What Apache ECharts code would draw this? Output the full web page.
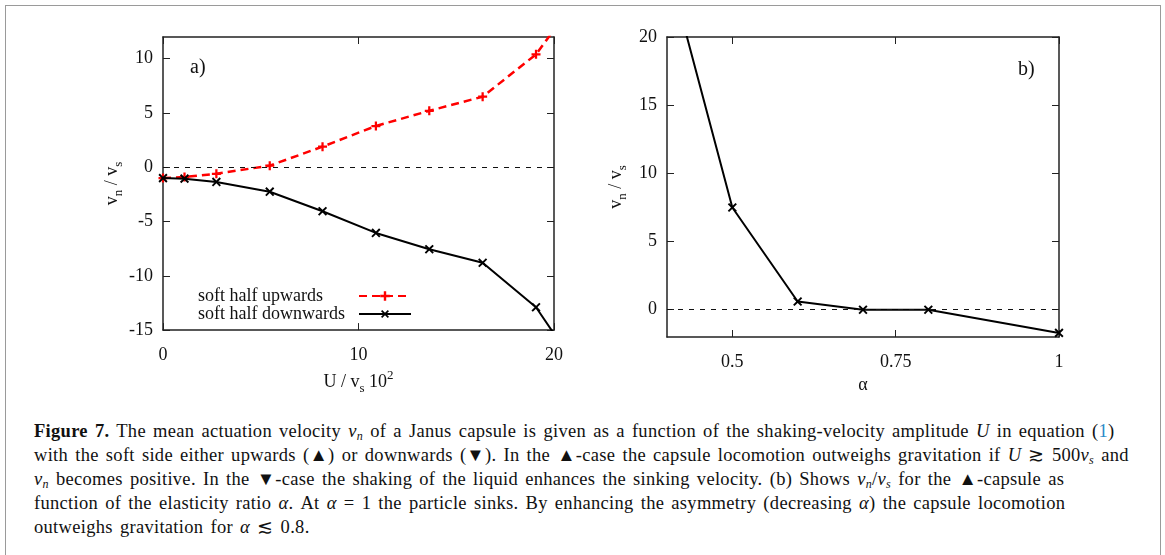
<!DOCTYPE html>
<html>
<head>
<meta charset="utf-8">
<script src="https://cdn.jsdelivr.net/npm/echarts@6/dist/echarts.min.js"></script>
<style>
  html, body { margin: 0; padding: 0; background: #fff; }
  #frame { position: absolute; left: 5px; top: 5px; width: 1156px; height: 600px; border: 1.5px solid #9a9a9a; border-bottom: none; box-sizing: border-box; }
  #chart { position: absolute; left: 0; top: 0; width: 1165px; height: 400px; }
  #caption { position: absolute; left: 34px; top: 419px; width: 1120px; font-family: "Liberation Serif", serif; font-size: 18.5px; letter-spacing: 0.3px; word-spacing: 2.2px; line-height: 24px; color: #111; white-space: nowrap; }
  #caption i { font-style: italic; }
  #caption sub { font-size: 12px; vertical-align: -3px; line-height: 0; }
  #caption .ref { color: #2a8ac7; }
</style>
</head>
<body>
<div id="frame"></div>
<div id="chart"></div>
<div id="caption">
  <div><b>Figure 7.</b> The mean actuation velocity <i>v<sub>n</sub></i> of a Janus capsule is given as a function of the shaking-velocity amplitude <i>U</i> in equation (<span class="ref">1</span>)</div>
  <div>with the soft side either upwards (▲) or downwards (▼). In the ▲-case the capsule locomotion outweighs gravitation if <i>U</i> ≳ 500<i>v<sub>s</sub></i> and</div>
  <div><i>v<sub>n</sub></i> becomes positive. In the ▼-case the shaking of the liquid enhances the sinking velocity. (b) Shows <i>v<sub>n</sub></i>/<i>v<sub>s</sub></i> for the ▲-capsule as</div>
  <div>function of the elasticity ratio <i>α</i>. At <i>α</i> = 1 the particle sinks. By enhancing the asymmetry (decreasing <i>α</i>) the capsule locomotion</div>
  <div>outweighs gravitation for <i>α</i> ≲ 0.8.</div>
</div>
<script>
// 左图：U / v_s 10^2
const uValues = [0, 1.1, 2.73, 5.46, 8.16, 10.89, 13.62, 16.35, 19.08, 21.8];
const upwardsValues = [-1.0, -0.9, -0.6, 0.15, 1.9, 3.8, 5.2, 6.5, 10.4, 17.1];
const downwardsValues = [-1.0, -1.05, -1.35, -2.25, -4.05, -6.05, -7.55, -8.8, -12.9, -20.1];
const leftXTicks = [0, 10, 20];
const leftYTicks = [-15, -10, -5, 0, 5, 10];

// 右图：alpha
const alphaValues = [0.4, 0.5, 0.6, 0.7, 0.8, 1.0];
const alphaVn = [25.5, 7.5, 0.6, 0, 0, -1.7];
const rightXTicks = [0.5, 0.75, 1];
const rightYTicks = [0, 5, 10, 15, 20];

const serif = 'Liberation Serif';
const plusPath = 'path://M3,0H5V3H8V5H5V8H3V5H0V3H3Z';
const crossPath = 'path://M3.3,0H4.7V3.3H8V4.7H4.7V8H3.3V4.7H0V3.3H3.3Z';

const nameRich = {
    n: { fontFamily: serif, fontSize: 18, color: '#111', lineHeight: 26, verticalAlign: 'middle' },
    sub: { fontFamily: serif, fontSize: 13, color: '#111', verticalAlign: 'bottom', lineHeight: 13 },
    sup: { fontFamily: serif, fontSize: 13, color: '#111', verticalAlign: 'top', lineHeight: 13 }
};

function makeAxis(gridIndex, position, min, max, ticks, opts) {
    return Object.assign({
        type: 'value',
        gridIndex: gridIndex,
        position: position,
        min: min,
        max: max,
        axisLine: { show: true, onZero: false, lineStyle: { color: '#222', width: 1.5 } },
        axisTick: { show: true, inside: true, length: 7, customValues: ticks, lineStyle: { color: '#222', width: 1 } },
        axisLabel: { show: false, customValues: ticks },
        splitLine: { show: false }
    }, opts || {});
}

function labelStyle(ticks, margin) {
    return { show: true, customValues: ticks, margin: margin, fontFamily: serif, fontSize: 18, color: '#111' };
}

const chart = echarts.init(document.getElementById('chart'));

const xAxes = [
    makeAxis(0, 'bottom', 0, 20, leftXTicks, {
        axisLabel: labelStyle(leftXTicks, 16),
        name: '{n|U / v}{sub|s}{n| 10}{sup|2}',
        nameLocation: 'middle',
        nameGap: 31,
        nameTextStyle: { rich: nameRich }
    }),
    makeAxis(0, 'top', 0, 20, leftXTicks),
    makeAxis(1, 'bottom', 0.4, 1, rightXTicks, {
        axisLabel: labelStyle(rightXTicks, 16),
        name: '{n|α}',
        nameLocation: 'middle',
        nameGap: 31,
        nameTextStyle: { rich: nameRich }
    }),
    makeAxis(1, 'top', 0.4, 1, rightXTicks)
];

const yAxes = [
    makeAxis(0, 'left', -15, 12, leftYTicks, {
        axisLabel: labelStyle(leftYTicks, 10),
        name: '{n|v}{sub|n}{n| / v}{sub|s}',
        nameLocation: 'middle',
        nameRotate: 90,
        nameGap: 38,
        nameTextStyle: { rich: nameRich }
    }),
    makeAxis(0, 'right', -15, 12, leftYTicks),
    makeAxis(1, 'left', -2, 20, rightYTicks, {
        axisLabel: labelStyle(rightYTicks, 10),
        name: '{n|v}{sub|n}{n| / v}{sub|s}',
        nameLocation: 'middle',
        nameRotate: 90,
        nameGap: 38,
        nameTextStyle: { rich: nameRich }
    }),
    makeAxis(1, 'right', -2, 20, rightYTicks)
];

const zeroLine = {
    silent: true,
    symbol: 'none',
    label: { show: false },
    lineStyle: { color: '#111', type: [5, 6], width: 1 },
    data: [{ yAxis: 0 }]
};

chart.setOption({
    animation: false,
    textStyle: { fontFamily: serif },
    grid: [
        { left: 163, top: 37, width: 391, height: 300 },
        { left: 667, top: 37, width: 392, height: 300 }
    ],
    xAxis: xAxes,
    yAxis: yAxes,
    legend: {
        orient: 'vertical',
        left: 193,
        top: 282,
        align: 'right',
        itemWidth: 52,
        itemHeight: 12,
        itemGap: 0,
        formatter: name => '{t|' + name + '}',
        textStyle: {
            fontFamily: serif, fontSize: 18, color: '#111',
            rich: { t: { fontFamily: serif, fontSize: 18, color: '#111', width: 156, align: 'left' } }
        },
        data: ['soft half upwards', 'soft half downwards']
    },
    graphic: [
        { type: 'text', left: 190, top: 58, style: { text: 'a)', fontFamily: serif, fontSize: 20, fill: '#111' } },
        { type: 'text', left: 1018, top: 60, style: { text: 'b)', fontFamily: serif, fontSize: 20, fill: '#111' } }
    ],
    series: [
        {
            name: 'soft half upwards',
            type: 'line',
            xAxisIndex: 0,
            yAxisIndex: 0,
            data: uValues.map((u, i) => [u, upwardsValues[i]]),
            symbol: plusPath,
            symbolSize: 9,
            showAllSymbol: true,
            clip: true,
            itemStyle: { color: '#ff0000' },
            lineStyle: { color: '#ff0000', width: 2.5, type: [8, 5] },
            markLine: zeroLine,
            z: 3
        },
        {
            name: 'soft half downwards',
            type: 'line',
            xAxisIndex: 0,
            yAxisIndex: 0,
            data: uValues.map((u, i) => [u, downwardsValues[i]]),
            symbol: crossPath,
            symbolRotate: 45,
            symbolSize: 11,
            showAllSymbol: true,
            clip: true,
            itemStyle: { color: '#000' },
            lineStyle: { color: '#000', width: 2 },
            z: 4
        },
        {
            name: 'alpha',
            type: 'line',
            xAxisIndex: 2,
            yAxisIndex: 2,
            data: alphaValues.map((a, i) => [a, alphaVn[i]]),
            symbol: crossPath,
            symbolRotate: 45,
            symbolSize: 11,
            showAllSymbol: true,
            clip: true,
            itemStyle: { color: '#000' },
            lineStyle: { color: '#000', width: 2 },
            markLine: zeroLine,
            z: 4
        }
    ]
});
</script>
</body>
</html>
